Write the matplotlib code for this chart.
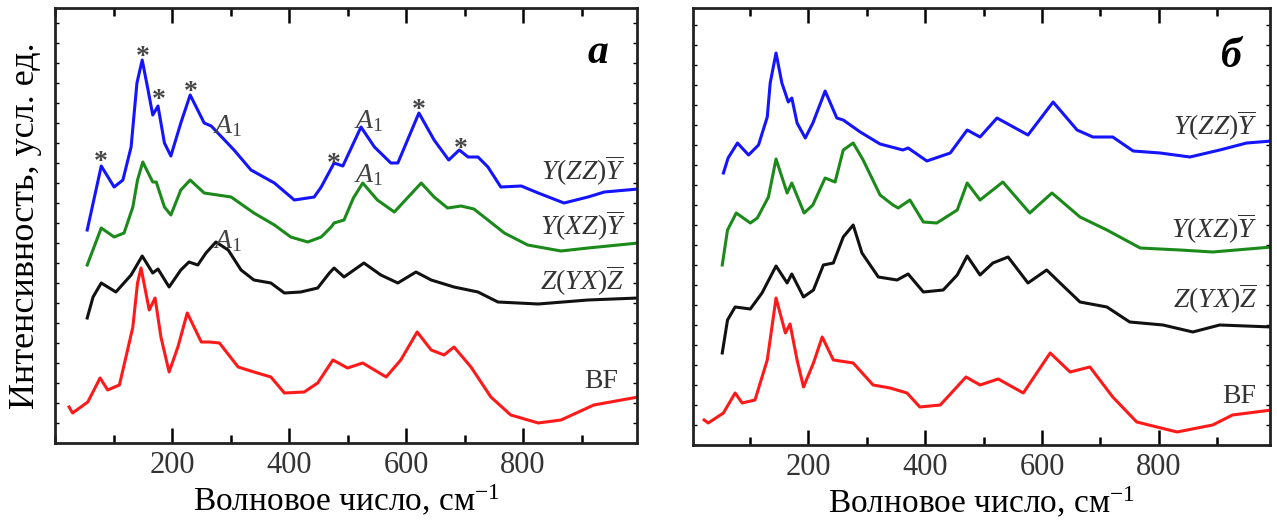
import numpy as np
import matplotlib.pyplot as plt
from matplotlib.ticker import MultipleLocator

plt.rcParams['font.family'] = ['Liberation Serif', 'DejaVu Serif']
plt.rcParams['mathtext.fontset'] = 'custom'
plt.rcParams['mathtext.rm'] = 'Liberation Serif'
plt.rcParams['mathtext.it'] = 'Liberation Serif:italic'
plt.rcParams['mathtext.bf'] = 'Liberation Serif:bold'

# panel a (intensity in arbitrary units, spectra already offset)
a_zz_x = [55, 79, 101, 116, 130, 140, 149, 159, 167, 176, 187, 198, 215, 231, 255, 267, 306, 335, 375, 409,
          443, 455, 477, 492, 523, 546, 574, 586, 622, 648, 673, 691, 706, 723, 740, 762, 797, 826, 870, 911,
          939, 997]
a_zz_y = [213, 277, 256, 263, 296, 360, 383, 353, 328, 337, 300, 287, 320, 348, 320, 317, 293, 273, 260, 243,
          246, 256, 280, 277, 316, 296, 280, 280, 330, 303, 283, 293, 286, 286, 276, 256, 257, 250, 240, 246,
          251, 254]

a_xz_x = [55, 79, 101, 118, 133, 141, 150, 167, 173, 187, 198, 215, 231, 255, 301, 340, 375, 403, 432, 455,
          472, 477, 494, 510, 526, 551, 580, 626, 648, 671, 694, 716, 740, 768, 808, 865, 911, 997]
a_xz_y = [178, 215, 206, 210, 236, 263, 281, 261, 261, 236, 228, 253, 263, 250, 246, 230, 218, 206, 201, 206,
          216, 220, 223, 245, 260, 243, 231, 260, 246, 235, 237, 234, 223, 210, 198, 192, 195, 200]

a_yx_x = [55, 65, 79, 104, 130, 149, 167, 176, 195, 215, 229, 244, 258, 275, 296, 318, 340, 369, 392, 420,
          449, 469, 477, 494, 528, 557, 586, 617, 643, 682, 723, 757, 826, 911, 997]
a_yx_y = [125, 146, 160, 151, 168, 187, 170, 174, 156, 173, 181, 178, 190, 201, 193, 173, 163, 160, 150, 151,
          155, 170, 175, 166, 180, 168, 160, 171, 163, 156, 151, 141, 139, 143, 145]

a_bf_x = [24, 30, 56, 77, 90, 110, 124, 133, 141, 147, 161, 171, 181, 195, 210, 226, 250, 264, 281, 313,
          340, 369, 392, 426, 449, 475, 500, 526, 566, 591, 619, 643, 665, 682, 711, 745, 779, 826, 865, 921,
          997]
a_bf_y = [36, 30, 41, 65, 53, 58, 93, 116, 160, 175, 133, 145, 106, 71, 96, 130, 101, 101, 100, 76,
          71, 66, 50, 51, 60, 83, 75, 80, 66, 83, 111, 93, 88, 96, 76, 46, 28, 20, 23, 38,
          46]

# panel b
b_zz_x = [55, 63, 79, 98, 115, 130, 135, 145, 155, 166, 172, 181, 195, 208, 229, 249, 260, 289, 323, 362,
          371, 403, 443, 472, 494, 523, 576, 619, 660, 687, 721, 756, 802, 853, 904, 950, 993]
b_zz_y = [272, 287, 302, 290, 300, 328, 362, 392, 362, 343, 347, 322, 307, 322, 354, 327, 325, 313, 301, 295,
          297, 284, 292, 315, 308, 327, 310, 343, 315, 308, 308, 294, 292, 288, 295, 302, 304]

b_xz_x = [53, 62, 77, 101, 113, 132, 145, 164, 172, 193, 208, 229, 246, 260, 277, 294, 323, 345, 354, 374,
          397, 420, 455, 472, 494, 533, 579, 617, 665, 711, 768, 836, 892, 993]
b_xz_y = [180, 215, 232, 222, 227, 248, 286, 252, 262, 232, 240, 267, 263, 295, 302, 285, 250, 240, 237, 245,
          223, 222, 235, 262, 245, 263, 232, 252, 228, 215, 197, 195, 193, 198]

b_yx_x = [53, 62, 75, 101, 121, 145, 164, 172, 192, 209, 226, 243, 260, 277, 292, 320, 352, 371, 397, 431,
          455, 472, 494, 516, 542, 576, 608, 631, 665, 711, 750, 807, 858, 904, 993]
b_yx_y = [92, 125, 138, 136, 152, 179, 162, 171, 148, 155, 180, 182, 208, 220, 192, 168, 165, 171, 153, 155,
          170, 189, 170, 182, 188, 162, 175, 162, 143, 138, 123, 120, 113, 120, 118]

b_bf_x = [22, 29, 55, 75, 87, 109, 130, 138, 145, 161, 169, 181, 192, 209, 224, 243, 277, 311, 340, 369,
          391, 426, 470, 494, 525, 568, 614, 648, 682, 721, 762, 831, 892, 926, 993]
b_bf_y = [25, 22, 32, 52, 42, 45, 85, 118, 147, 112, 121, 85, 58, 82, 108, 85, 82, 60, 57, 52,
          38, 40, 68, 60, 66, 52, 92, 73, 78, 48, 23, 13, 20, 30, 35]

geometries = [r'$Y(ZZ)\overline{Y}$', r'$Y(XZ)\overline{Y}$', r'$Z(YX)\overline{Z}$', 'BF']
colors = ['#1414ff', '#1b8a1b', '#111111', '#ff1a1a']

# peaks marked with * and A1 in panel a
star_x = [79, 150, 178, 232, 477, 622, 694]
star_y = [288, 393, 350, 358, 286, 340, 301]
a1_x = [270, 511, 511, 270]
a1_y = [310, 315, 261, 195]

fig = plt.figure(figsize=(12.77, 5.24), dpi=100)
ax1 = fig.add_axes([0.0431, 0.1546, 0.4558, 0.8301])
ax2 = fig.add_axes([0.5427, 0.1508, 0.4518, 0.8339])

for x, y, c in zip([a_zz_x, a_xz_x, a_yx_x, a_bf_x], [a_zz_y, a_xz_y, a_yx_y, a_bf_y], colors):
    ax1.plot(x, y, color=c, lw=2.2)
for x, y, c in zip([b_zz_x, b_xz_x, b_yx_x, b_bf_x], [b_zz_y, b_xz_y, b_yx_y, b_bf_y], colors):
    ax2.plot(x, y, color=c, lw=2.2)

ax1.set_xlim(0, 995)
ax1.set_ylim(0, 435)
ax2.set_xlim(3, 990)
ax2.set_ylim(0, 437)

for ax in [ax1, ax2]:
    ax.xaxis.set_major_locator(MultipleLocator(200))
    ax.xaxis.set_minor_locator(MultipleLocator(100))
    ax.yaxis.set_major_locator(MultipleLocator(20))
    ax.tick_params(axis='x', which='major', direction='in', length=11, width=1.8, labelsize=22,
                   labelcolor='#333333', pad=6, top=True)
    ax.tick_params(axis='x', which='minor', direction='in', length=6, width=1.8, top=True)
    ax.tick_params(axis='y', which='major', direction='in', length=3, width=1, right=True, labelleft=False)
    for s in ax.spines.values():
        s.set_linewidth(2)
        s.set_color('#222222')
    ax.set_xticks([200, 400, 600, 800])
    ax.set_xlabel('Волновое число, см$^{-1}$', fontsize=24, labelpad=2)

# curve labels
ax1.text(976, 263, geometries[0], fontsize=20, color='#333333', ha='right', va='baseline')
ax1.text(976, 208, geometries[1], fontsize=20, color='#333333', ha='right', va='baseline')
ax1.text(973, 153, geometries[2], fontsize=20, color='#333333', ha='right', va='baseline')
ax1.text(962, 55, geometries[3], fontsize=20, color='#333333', ha='right', va='baseline')
ax2.text(969, 310, geometries[0], fontsize=20, color='#333333', ha='right', va='baseline')
ax2.text(969, 207, geometries[1], fontsize=20, color='#333333', ha='right', va='baseline')
ax2.text(967, 137, geometries[2], fontsize=20, color='#333333', ha='right', va='baseline')
ax2.text(966, 42, geometries[3], fontsize=20, color='#333333', ha='right', va='baseline')

for sx, sy in zip(star_x, star_y):
    ax1.text(sx, sy - 14, '*', fontsize=20, fontweight='bold', color='#444444', ha='center', va='baseline')
for ax_, ay in zip(a1_x, a1_y):
    ax1.text(ax_, ay, r'$A_1$', fontsize=20, color='#444444', ha='left', va='baseline')

ax1.text(928, 380, 'a', fontsize=30, fontweight='bold', style='italic', ha='center', va='baseline')
ax2.text(924, 378, 'б', fontsize=30, fontweight='bold', style='italic', ha='center', va='baseline')

fig.text(0.02, 0.569, 'Интенсивность, усл. ед.', fontsize=26, rotation=90, ha='center', va='center')

plt.savefig('out.png', dpi=100)
